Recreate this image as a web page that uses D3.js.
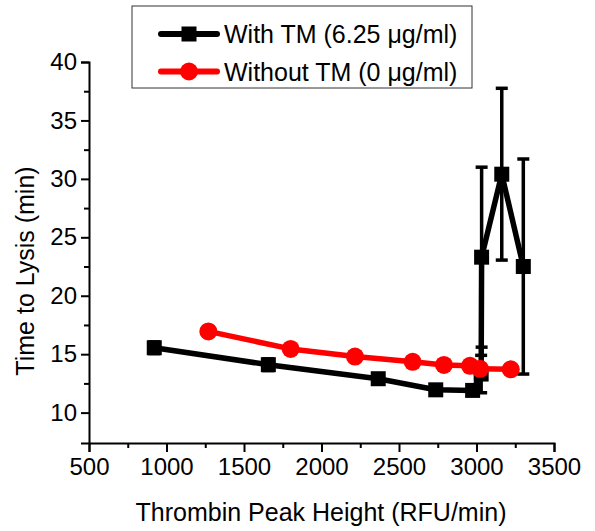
<!DOCTYPE html>
<html>
<head>
<meta charset="utf-8">
<script src="https://cdn.jsdelivr.net/npm/d3@7"></script>
<style>
  body { margin: 0; background: #ffffff; }
  svg text { font-family: "Liberation Sans", Arial, sans-serif; fill: #000; }
</style>
</head>
<body>
<svg></svg>
<script>
// Data
const withTmX = [921, 1657, 2366, 2737, 2975, 3030, 3033, 3163, 3302];
const withTmY = [15.55, 14.1, 12.9, 11.95, 11.9, 13.3, 23.3, 30.4, 22.5];
const withTmErr = [0.5, 0.5, 0.4, 0.4, 0.4, 1.6, 7.7, 7.35, 9.2];
const withoutTmX = [1270, 1801, 2216, 2588, 2790, 2958, 3023, 3221];
const withoutTmY = [16.95, 15.45, 14.8, 14.35, 14.08, 14.0, 13.75, 13.7];
const xTicks = [500, 1000, 1500, 2000, 2500, 3000, 3500];
const yTicks = [10, 15, 20, 25, 30, 35, 40];
const legendLabels = ["With TM (6.25 \u03bcg/ml)", "Without TM (0 \u03bcg/ml)"];

const svgWidth = 595, svgHeight = 531;
const plot = { left: 89, right: 554, top: 62, bottom: 443 };

const svg = d3.select("svg")
    .attr("width", svgWidth)
    .attr("height", svgHeight)
    .style("background-color", "#ffffff");

// Scales
const xScale = d3.scaleLinear().domain([500, 3500]).range([plot.left, plot.right]);
const yScale = d3.scaleLinear().domain([7.4, 40]).range([plot.bottom, plot.top]);

// Axes (major + minor ticks, pointing outward)
svg.append("g")
    .attr("transform", `translate(0,${plot.bottom})`)
    .call(d3.axisBottom(xScale).tickValues(xTicks).tickSize(9).tickPadding(6).tickFormat(d3.format("d")));
svg.append("g")
    .attr("transform", `translate(0,${plot.bottom})`)
    .call(d3.axisBottom(xScale).tickValues(d3.range(750, 3500, 500)).tickSize(5).tickFormat(""))
    .select(".domain").remove();

svg.append("g")
    .attr("transform", `translate(${plot.left},0)`)
    .call(d3.axisLeft(yScale).tickValues(yTicks).tickSize(8).tickPadding(4));
svg.append("g")
    .attr("transform", `translate(${plot.left},0)`)
    .call(d3.axisLeft(yScale).tickValues(d3.range(12.5, 40, 5)).tickSize(5).tickFormat(""))
    .select(".domain").remove();

svg.selectAll(".domain, .tick line")
    .attr("stroke", "#000")
    .attr("stroke-width", 2);
svg.selectAll(".tick text")
    .style("font-size", "24px");

// Axis labels
svg.append("text")
    .attr("x", 321)
    .attr("y", 521)
    .attr("text-anchor", "middle")
    .style("font-size", "25px")
    .text("Thrombin Peak Height (RFU/min)");

svg.append("text")
    .attr("transform", "rotate(-90)")
    .attr("x", -271)
    .attr("y", 34)
    .attr("text-anchor", "middle")
    .style("font-size", "25px")
    .text("Time to Lysis (min)");

const line = d3.line()
    .x(d => xScale(d[0]))
    .y(d => yScale(d[1]));

// With TM series (black squares with error bars)
const blackData = withTmX.map((x, i) => [x, withTmY[i], withTmErr[i]]);

const errG = svg.append("g");
blackData.forEach(d => {
    const cx = xScale(d[0]);
    const y1 = yScale(d[1] + d[2]), y2 = yScale(d[1] - d[2]);
    errG.append("line").attr("x1", cx).attr("x2", cx).attr("y1", y1).attr("y2", y2)
        .attr("stroke", "#000").attr("stroke-width", 3.5);
    [y1, y2].forEach(y => {
        errG.append("line").attr("x1", cx - 6).attr("x2", cx + 6).attr("y1", y).attr("y2", y)
            .attr("stroke", "#000").attr("stroke-width", 3.5);
    });
});

svg.append("path")
    .datum(blackData)
    .attr("d", line)
    .attr("fill", "none")
    .attr("stroke", "#000")
    .attr("stroke-width", 5.5)
    .attr("stroke-linejoin", "round");

svg.selectAll(".sq")
    .data(blackData)
    .enter()
    .append("rect")
    .attr("class", "sq")
    .attr("x", d => xScale(d[0]) - 7.5)
    .attr("y", d => yScale(d[1]) - 7.5)
    .attr("width", 15)
    .attr("height", 15)
    .attr("fill", "#000");

// Without TM series (red circles)
const redData = withoutTmX.map((x, i) => [x, withoutTmY[i]]);

svg.append("path")
    .datum(redData)
    .attr("d", line)
    .attr("fill", "none")
    .attr("stroke", "#ff0000")
    .attr("stroke-width", 5.5)
    .attr("stroke-linejoin", "round");

svg.selectAll(".dot")
    .data(redData)
    .enter()
    .append("circle")
    .attr("class", "dot")
    .attr("cx", d => xScale(d[0]))
    .attr("cy", d => yScale(d[1]))
    .attr("r", 9)
    .attr("fill", "#ff0000");

// Legend
const legend = svg.append("g");
legend.append("rect")
    .attr("x", 132).attr("y", 6)
    .attr("width", 340).attr("height", 82)
    .attr("fill", "#fff")
    .attr("stroke", "#333")
    .attr("stroke-width", 1);

const legendColors = ["#000", "#ff0000"];
legendLabels.forEach((label, i) => {
    const ly = 34 + i * 37.5;
    legend.append("line")
        .attr("x1", 161).attr("x2", 217)
        .attr("y1", ly).attr("y2", ly)
        .attr("stroke", legendColors[i])
        .attr("stroke-width", 6)
        .attr("stroke-linecap", "round");
    if (i === 0) {
        legend.append("rect").attr("x", 181.5).attr("y", ly - 7.5).attr("width", 15).attr("height", 15).attr("fill", "#000");
    } else {
        legend.append("circle").attr("cx", 189).attr("cy", ly).attr("r", 9).attr("fill", "#ff0000");
    }
    legend.append("text")
        .attr("x", 224)
        .attr("y", ly + 9)
        .style("font-size", "25px")
        .text(label);
});
</script>
</body>
</html>
